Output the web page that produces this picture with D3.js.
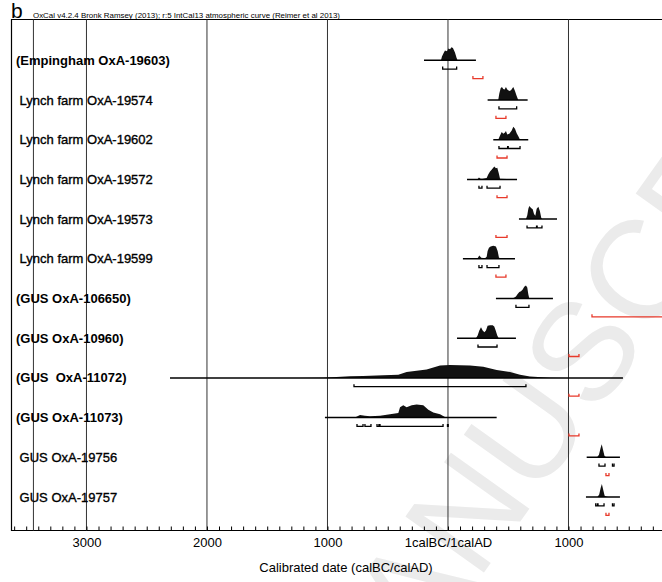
<!DOCTYPE html>
<html>
<head>
<meta charset="utf-8">
<script src="https://cdnjs.cloudflare.com/ajax/libs/d3/7.8.5/d3.min.js"></script>
<style>
  body { margin: 0; background: #fff; }
  svg { display: block; font-family: "Liberation Sans", Arial, sans-serif; }
</style>
</head>
<body>
<svg id="chart" width="662" height="582"></svg>
<script>
// row names, top to bottom
const rowNames = [
  "(Empingham OxA-19603)", " Lynch farm OxA-19574", " Lynch farm OxA-19602", " Lynch farm OxA-19572",
  " Lynch farm OxA-19573", " Lynch farm OxA-19599", "(GUS OxA-106650)", "(GUS OxA-10960)",
  "(GUS  OxA-11072)", "(GUS OxA-11073)", " GUS OxA-19756", " GUS OxA-19757"
];

// extent of each likelihood base line (cal years, BC negative)
const lineSpans = [
  [-199, 232], [329, 661], [376, 666], [158, 573], [589, 905], [124, 556],
  [398, 871], [75, 564], [-2307, 1452], [-1021, 404], [1151, 1427], [1145, 1427]
];

// distribution outlines: years and relative density
const curveYears = [
  [-58, -50, -37, -25, -8, 4, 17, 29, 41, 58, 71, 79],
  [417, 426, 437, 448, 459, 470, 481, 492, 509, 523, 542, 556, 570, 583],
  [417, 432, 446, 459, 473, 481, 492, 509, 529, 542, 556, 570, 587, 598],
  [243, 257, 271, 288, 321, 335, 349, 362, 376, 384, 398, 409, 421, 432, 487, 515],
  [647, 658, 667, 675, 689, 703, 714, 725, 736, 750, 763, 774, 780],
  [243, 260, 276, 307, 321, 329, 340, 354, 376, 398, 412, 423, 437],
  [529, 548, 564, 578, 592, 606, 620, 633, 647, 658, 667, 675],
  [232, 246, 260, 274, 288, 302, 315, 329, 349, 371, 384, 396, 409, 421],
  [-1256, -1035, -813, -703, -537, -412, -343, -260, -177, -66, 17, 183, 293, 404, 515, 598, 680, 846, 985],
  [-772, -730, -689, -647, -564, -481, -412, -398, -371, -343, -301, -260, -205, -163, -122, -66, -25, -11],
  [1237, 1253, 1266, 1276, 1286, 1299, 1311, 1330],
  [1240, 1255, 1267, 1277, 1287, 1300, 1312, 1330]
];
const curveDens = [
  [0, 0.3, 0.55, 0.75, 0.7, 0.9, 0.85, 1, 0.95, 0.6, 0.2, 0],
  [0, 0.5, 0.9, 1, 0.85, 0.8, 1, 0.8, 0.7, 0.75, 1, 0.7, 0.3, 0],
  [0, 0.32, 0.6, 0.45, 0.55, 0.66, 0.4, 0.45, 0.7, 1, 0.85, 0.5, 0.2, 0],
  [0, 0.15, 0.05, 0.05, 0.1, 0.4, 0.6, 0.75, 0.9, 1, 0.85, 0.9, 0.5, 0.05, 0.03, 0],
  [0, 0.3, 0.8, 1, 0.85, 0.75, 0.4, 0.25, 0.8, 0.95, 0.6, 0.1, 0],
  [0, 0.25, 0.08, 0.05, 0.15, 0.6, 0.85, 0.95, 1, 0.95, 0.6, 0.1, 0],
  [0, 0.05, 0.15, 0.35, 0.5, 0.55, 0.7, 0.9, 1, 0.85, 0.3, 0],
  [0, 0.2, 0.6, 0.85, 0.6, 0.45, 0.6, 0.95, 1, 1, 0.9, 0.6, 0.2, 0],
  [0, 0.02, 0.12, 0.15, 0.2, 0.25, 0.45, 0.55, 0.65, 0.95, 1, 0.95, 0.85, 0.6, 0.45, 0.25, 0.1, 0.02, 0],
  [0, 0.2, 0.15, 0.1, 0.15, 0.25, 0.35, 0.8, 0.95, 0.8, 0.95, 1, 0.95, 0.6, 0.4, 0.25, 0.05, 0],
  [0, 0.2, 0.7, 1, 0.6, 0.1, 0.03, 0],
  [0, 0.2, 0.7, 1, 0.6, 0.1, 0.03, 0]
];

// black (modelled) ranges and red ranges
const blackRanges = [
  [[-44, 72]], [[423, 570]], [[423, 495], [500, 598]], [[257, 282], [324, 432]],
  [[656, 735], [740, 780]], [[257, 282], [324, 423]], [[564, 672]], [[249, 407]],
  [[-780, 647]], [[-755, -705], [-689, -639], [-589, -573], [-564, -41], [-4, 2]],
  [[1253, 1303], [1365, 1378]], [[1226, 1240], [1245, 1295], [1365, 1378]]
];
const redRanges = [
  [207, 290], [398, 481], [407, 490], [407, 490], [398, 490], [398, 481],
  [1195, 1950], [1004, 1087], [1004, 1087], [1004, 1087], [1311, 1336], [1311, 1336]
];

// axis
const gridYears = [-3000, -2000, -1000, 0, 1000];
const tickLabels = ["3000", "2000", "1000", "1calBC/1calAD", "1000"];
const extraRule = [-3440];
const minorTicks = d3.range(-3600, 1800, 100);

const svg = d3.select("#chart");
const yTop = 19.5, yBottom = 530.5, xLeft = 11.5;

const x = d3.scaleLinear().domain([-3622, 1776]).range([xLeft, 662]);
const y = d3.scalePoint().domain(rowNames).range([60.3, 497]);
const hgt = 13;

// watermark
svg.append("text")
  .attr("transform", "translate(-110,1405) rotate(-54.5)")
  .attr("font-size", 140)
  .attr("fill", "#ebebeb")
  .text("ACCEPTED MANUSCRIPT");

// header
svg.append("text").attr("x", 11).attr("y", 17.5).attr("font-size", 21).text("b");
svg.append("text")
  .attr("x", 33).attr("y", 17.5)
  .attr("font-size", 7.5)
  .attr("textLength", 307).attr("lengthAdjust", "spacingAndGlyphs")
  .text("OxCal v4.2.4 Bronk Ramsey (2013); r:5 IntCal13 atmospheric curve (Reimer et al 2013)");

// frame
svg.append("path")
  .attr("d", `M662,${yTop}H${xLeft}V${yBottom}H662`)
  .attr("fill", "none").attr("stroke", "#000").attr("stroke-width", 1.2);

// grid lines
svg.append("g").selectAll("line")
  .data(gridYears.concat(extraRule))
  .join("line")
  .attr("x1", d => x(d)).attr("x2", d => x(d))
  .attr("y1", yTop).attr("y2", yBottom)
  .attr("stroke", "#333").attr("stroke-width", 1);

// minor ticks
svg.append("g")
  .attr("transform", `translate(0,${yBottom})`)
  .call(d3.axisBottom(x).tickValues(minorTicks).tickSize(-4).tickFormat(""))
  .call(g => g.select(".domain").remove())
  .call(g => g.selectAll("line").attr("stroke", "#000"));

// tick labels
svg.append("g")
  .attr("transform", `translate(0,${yBottom})`)
  .call(d3.axisBottom(x).tickValues(gridYears).tickSize(0).tickPadding(7)
    .tickFormat((d, i) => tickLabels[i]))
  .call(g => g.select(".domain").remove())
  .call(g => g.selectAll("text").attr("font-size", 13).attr("fill", "#000")
    .attr("font-family", "'Liberation Sans', Arial, sans-serif"));

svg.append("text")
  .attr("x", 346).attr("y", 571.5)
  .attr("text-anchor", "middle").attr("font-size", 13)
  .text("Calibrated date (calBC/calAD)");

// row labels
svg.append("g").selectAll("text")
  .data(rowNames)
  .join("text")
  .attr("x", 16)
  .attr("y", d => y(d) + 4.5)
  .attr("font-size", 13)
  .attr("font-weight", d => d.startsWith("(") ? "bold" : "normal")
  .attr("stroke", d => d.startsWith("(") ? "none" : "#000")
  .attr("stroke-width", 0.35)
  .style("white-space", "pre")
  .text(d => d);

const area = d3.area()
  .x(d => x(d[0]))
  .y0(d => d[2])
  .y1(d => d[2] - d[1] * hgt);

const bracket = (r, yy, tick) =>
  `M${x(r[0])},${yy - tick}V${yy}H${x(r[1])}V${yy - tick}`;

const rows = svg.append("g").selectAll("g")
  .data(rowNames)
  .join("g");

rows.append("path")
  .attr("d", (d, i) => area(curveYears[i].map((yr, j) => [yr, curveDens[i][j], y(d)])))
  .attr("fill", "#111");

rows.append("line")
  .attr("x1", (d, i) => x(lineSpans[i][0]))
  .attr("x2", (d, i) => x(lineSpans[i][1]))
  .attr("y1", d => y(d)).attr("y2", d => y(d))
  .attr("stroke", "#000").attr("stroke-width", 1.5);

rows.append("path")
  .attr("d", (d, i) => blackRanges[i].map(r => bracket(r, y(d) + 8.8, 2.5)).join(""))
  .attr("fill", "none").attr("stroke", "#000").attr("stroke-width", 1.3);

rows.append("path")
  .attr("d", (d, i) => bracket(redRanges[i], y(d) + 18.3, 2.5))
  .attr("fill", "none").attr("stroke", "#e8392a").attr("stroke-width", 1.3);
</script>
</body>
</html>
